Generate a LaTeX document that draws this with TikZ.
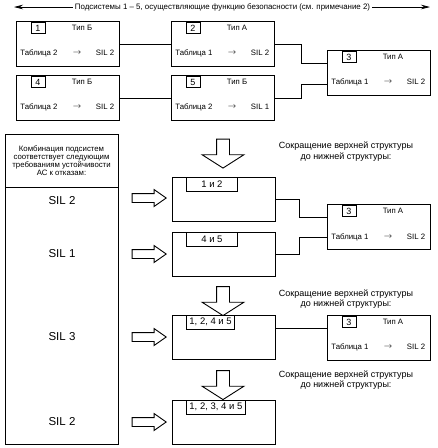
\documentclass[tikz,border=0pt]{standalone}
\usepackage{fontspec}
\setmainfont{Liberation Sans}
\usetikzlibrary{shapes.arrows,arrows.meta}

\begin{document}
\begin{tikzpicture}
    [x=1pt, y=-1pt, line width=0.9pt,
     unit/.style={draw, anchor=north west, minimum width=103pt, minimum height=45pt, inner sep=0pt},
     plainbox/.style={draw, anchor=north west, minimum width=103pt, minimum height=44pt, inner sep=0pt},
     numtag/.style={draw, minimum width=14pt, minimum height=11pt, inner sep=0pt, font=\fontsize{9}{9}\selectfont},
     celltext/.style={inner sep=0pt, font=\fontsize{7.8}{9}\selectfont},
     tabtag/.style={draw, anchor=north west, minimum width=51pt, minimum height=13.5pt, inner xsep=3pt, inner ysep=0pt, font=\fontsize{9.5}{10}\selectfont},
     siltext/.style={inner sep=0pt, font=\fontsize{11.5}{12}\selectfont},
     reduce/.style={align=center, inner sep=0pt, font=\fontsize{9}{10.5}\selectfont},
     rightarrow/.style={draw, single arrow, minimum height=34pt, inner sep=4pt, single arrow head extend=4pt, single arrow tip angle=70},
     downarrow/.style={draw, single arrow, rotate=-90, minimum height=29pt, inner sep=6pt, single arrow head extend=14.5pt, single arrow tip angle=115}]
  \path[use as bounding box, fill=white] (0,0) rectangle (438,448);

  % subsystems line
  \coordinate (tl) at (14,7);
  \coordinate (tr) at (430,7);
  \draw[line width=0.7pt, {Stealth[length=9pt,width=4.5pt]}-{Stealth[length=9pt,width=4.5pt]}] (tl) -- (tr);
  \node[fill=white, inner xsep=2pt, inner ysep=1pt, font=\fontsize{7.9}{9}\selectfont] (title) at (222.5,7)
    {Подсистемы 1 – 5, осуществляющие функцию безопасности (см. примечание 2)};

  % upper structure
  \node[unit] (s1) at (16,21) {};
  \node[numtag] (s1n) at ([shift={(22,7)}]s1.north west) {1};
  \node[celltext] (s1t) at ([shift={(66,7)}]s1.north west) {Тип Б};
  \node[celltext] (s1a) at ([shift={(23,32)}]s1.north west) {Таблица 2};
  \node[celltext] (s1r) at ([shift={(61,32)}]s1.north west) {$\rightarrow$};
  \node[celltext] (s1s) at ([shift={(89,32)}]s1.north west) {SIL 2};

  \node[unit] (s2) at (171,21) {};
  \node[numtag] (s2n) at ([shift={(22,7)}]s2.north west) {2};
  \node[celltext] (s2t) at ([shift={(66,7)}]s2.north west) {Тип А};
  \node[celltext] (s2a) at ([shift={(23,32)}]s2.north west) {Таблица 1};
  \node[celltext] (s2r) at ([shift={(61,32)}]s2.north west) {$\rightarrow$};
  \node[celltext] (s2s) at ([shift={(89,32)}]s2.north west) {SIL 2};

  \node[unit] (s3) at (327,50) {};
  \node[numtag] (s3n) at ([shift={(22,7)}]s3.north west) {3};
  \node[celltext] (s3t) at ([shift={(66,7)}]s3.north west) {Тип А};
  \node[celltext] (s3a) at ([shift={(23,32)}]s3.north west) {Таблица 1};
  \node[celltext] (s3r) at ([shift={(61,32)}]s3.north west) {$\rightarrow$};
  \node[celltext] (s3s) at ([shift={(89,32)}]s3.north west) {SIL 2};

  \node[unit] (s4) at (16,75) {};
  \node[numtag] (s4n) at ([shift={(22,7)}]s4.north west) {4};
  \node[celltext] (s4t) at ([shift={(66,7)}]s4.north west) {Тип Б};
  \node[celltext] (s4a) at ([shift={(23,32)}]s4.north west) {Таблица 2};
  \node[celltext] (s4r) at ([shift={(61,32)}]s4.north west) {$\rightarrow$};
  \node[celltext] (s4s) at ([shift={(89,32)}]s4.north west) {SIL 2};

  \node[unit] (s5) at (171,75) {};
  \node[numtag] (s5n) at ([shift={(22,7)}]s5.north west) {5};
  \node[celltext] (s5t) at ([shift={(66,7)}]s5.north west) {Тип Б};
  \node[celltext] (s5a) at ([shift={(23,32)}]s5.north west) {Таблица 2};
  \node[celltext] (s5r) at ([shift={(61,32)}]s5.north west) {$\rightarrow$};
  \node[celltext] (s5s) at ([shift={(89,32)}]s5.north west) {SIL 1};

  \draw (s1.east) -- (s2.west);
  \draw (s4.east) -- (s5.west);
  \draw (s2.east) -- ++(27,0) |- ([yshift=9.5pt]s3.west);
  \draw (s5.east) -- ++(27,0) |- ([yshift=-11.5pt]s3.west);

  % left column
  \node[draw, minimum width=113pt, minimum height=53pt, align=center, inner sep=0pt,
        font=\fontsize{7.8}{8.2}\selectfont] (head) at (61.5,160.5)
    {Комбинация подсистем\\соответствует следующим\\требованиям устойчивости\\АС к отказам:};
  \node[draw, anchor=north, minimum width=113pt, minimum height=257pt] (silcol) at (head.south) {};
  \node[siltext] (sil1) at (62,201) {SIL 2};
  \node[siltext] (sil2) at (62,254) {SIL 1};
  \node[siltext] (sil3) at (62,337) {SIL 3};
  \node[siltext] (sil4) at (62,422) {SIL 2};

  \node[rightarrow] (ar1) at (146,198) {};
  \node[rightarrow] (ar2) at (146,254) {};
  \node[rightarrow] (ar3) at (146,337) {};
  \node[rightarrow] (ar4) at (146,422) {};

  % reduced structures
  \node[downarrow] (dn1) at (223,151.5) {};
  \node[reduce] (red1) at (346,151.5) {Сокращение верхней структуры\\до нижней структуры:};

  \node[plainbox] (c1) at (172,177) {};
  \node[tabtag] (c1n) at ([xshift=14pt]c1.north west) {1 и 2};
  \node[plainbox] (c2) at (172,232) {};
  \node[tabtag] (c2n) at ([xshift=14pt]c2.north west) {4 и 5};

  \node[unit] (t1) at (327,204) {};
  \node[numtag] (t1n) at ([shift={(22,7)}]t1.north west) {3};
  \node[celltext] (t1t) at ([shift={(66,7)}]t1.north west) {Тип А};
  \node[celltext] (t1a) at ([shift={(23,33)}]t1.north west) {Таблица 1};
  \node[celltext] (t1r) at ([shift={(61,33)}]t1.north west) {$\rightarrow$};
  \node[celltext] (t1s) at ([shift={(89,33)}]t1.north west) {SIL 2};

  \draw (c1.east) -- ++(24,0) |- ([yshift=9.5pt]t1.west);
  \draw (c2.east) -- ++(24,0) |- ([yshift=-10.5pt]t1.west);

  \node[downarrow] (dn2) at (223,299) {};
  \node[reduce] (red2) at (346,299) {Сокращение верхней структуры\\до нижней структуры:};

  \node[plainbox] (c3) at (172,315) {};
  \node[tabtag, minimum width=48pt] (c3n) at ([xshift=14pt]c3.north west) {1, 2, 4 и 5};

  \node[unit] (t2) at (327,315) {};
  \node[numtag] (t2n) at ([shift={(22,7)}]t2.north west) {3};
  \node[celltext] (t2t) at ([shift={(66,7)}]t2.north west) {Тип А};
  \node[celltext] (t2a) at ([shift={(23,32)}]t2.north west) {Таблица 1};
  \node[celltext] (t2r) at ([shift={(61,32)}]t2.north west) {$\rightarrow$};
  \node[celltext] (t2s) at ([shift={(89,32)}]t2.north west) {SIL 2};

  \draw ([yshift=9pt]c3.east) -- ([yshift=9pt]c3.east -| t2.west);

  \node[downarrow] (dn3) at (223,383) {};
  \node[reduce] (red3) at (346,380) {Сокращение верхней структуры\\до нижней структуры:};

  \node[plainbox] (c4) at (172,400) {};
  \node[tabtag] (c4n) at ([xshift=14pt]c4.north west) {1, 2, 3, 4 и 5};
\end{tikzpicture}
\end{document}
